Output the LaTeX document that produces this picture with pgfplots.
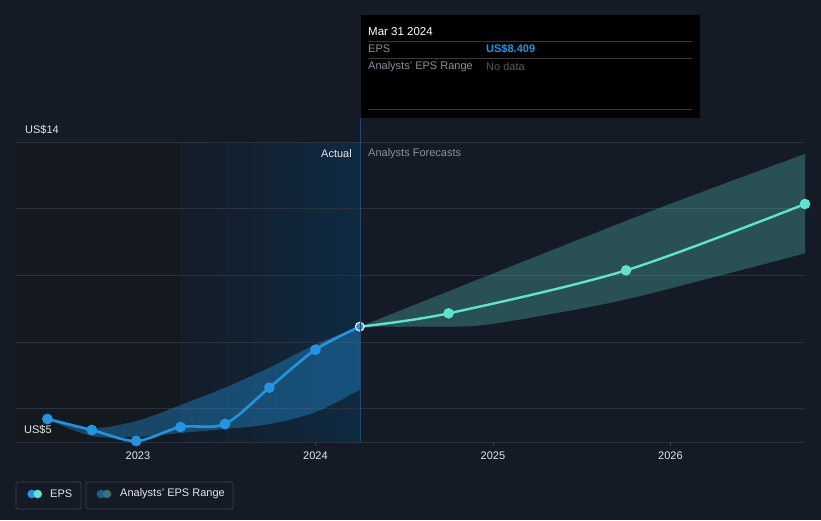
\documentclass[border=0pt]{standalone}
\usepackage{fontspec}
\setmainfont{Liberation Sans}
\usepackage{pgfplots}
\pgfplotsset{compat=1.18}
\usepgfplotslibrary{fillbetween}

\definecolor{bg}{HTML}{151B26}
\definecolor{leftbg}{HTML}{14181F}
\definecolor{hlleft}{HTML}{141C28}
\definecolor{hlright}{HTML}{0F2A42}
\definecolor{gridc}{HTML}{2C323D}
\definecolor{basec}{HTML}{3A3F4A}
\definecolor{epsblue}{HTML}{2394DF}
\definecolor{fcteal}{HTML}{5FE3CF}
\definecolor{txt}{HTML}{E4E6EA}
\definecolor{muted}{HTML}{8A9099}
\definecolor{vline}{HTML}{1E4A6B}
\definecolor{sep}{HTML}{3A3A3A}
\pagecolor{bg}

% x values are years after 2022 (0.49 = end of June 2022)
\begin{document}
\begin{tikzpicture}[x=1pt,y=1pt,font=\fontsize{11}{13}\selectfont]
\path (0,0) rectangle (821,520);

\begin{axis}[
  set layers,
  at={(16pt,78pt)}, anchor=south west,
  scale only axis, width=789pt, height=300pt,
  xmin=0.313, xmax=4.758, ymin=5, ymax=14,
  axis line style={draw=none},
  xtick={1,2,3,4},
  xticklabels={2023,2024,2025,2026},
  xtick pos=bottom,
  xtick align=outside,
  major tick length=4pt,
  xtick style={draw=basec, line width=0.8pt},
  x tick label style={text=txt, font=\fontsize{11}{13}\selectfont, yshift=-2pt},
  ytick={5,6,8,10,12,14},
  yticklabels={},
  ytick style={draw=none},
  ymajorgrids=true,
  major grid style={draw=gridc, line width=0.9pt},
  clip=false,
]
\begin{pgfonlayer}{axis background}
  \fill[leftbg] (rel axis cs:0,0) rectangle (axis cs:1.24,14);
  \shade[left color=hlleft,right color=hlright] (axis cs:1.24,5) rectangle (axis cs:2.25,14);
\end{pgfonlayer}

% historical analyst range
\addplot[name path=hu, draw=none, smooth, tension=0.6] coordinates {
  (0.49,5.69) (0.74,5.42) (0.99,5.63) (1.24,6.11)
  (1.49,6.63) (1.74,7.23) (2.00,7.92) (2.25,8.46)};
\addplot[name path=hl, draw=none, smooth, tension=0.6] coordinates {
  (0.49,5.69) (0.74,5.18) (0.99,5.15) (1.24,5.27)
  (1.49,5.39) (1.74,5.54) (2.00,5.90) (2.25,6.57)};
\addplot[fill=epsblue, fill opacity=0.38, draw=none] fill between[of=hu and hl];

% forecast analyst range
\addplot[name path=fu, draw=none, smooth] coordinates {
  (2.25,8.46) (3.83,11.80) (4.758,13.64)};
\addplot[name path=fl, draw=none, smooth, tension=0.5] coordinates {
  (2.25,8.46) (2.6,8.46) (2.93,8.50) (3.38,8.89) (3.83,9.38) (4.758,10.66)};
\addplot[fill=fcteal, fill opacity=0.27, draw=none] fill between[of=fu and fl];

% forecast EPS
\addplot[fcteal, line width=2.4pt, smooth, tension=0.5, mark=*, mark size=4pt,
  mark options={fill=fcteal, draw=none}, mark indices={2,3,4}] coordinates {
  (2.25,8.46) (2.75,8.86) (3.75,10.15) (4.758,12.14)};

% actual EPS
\addplot[epsblue, line width=2.6pt, smooth, tension=0.5, mark=*, mark size=4pt,
  mark options={fill=epsblue, draw=none}, mark indices={1,2,3,4,5,6,7}] coordinates {
  (0.49,5.69) (0.74,5.36) (0.99,5.03) (1.24,5.45)
  (1.49,5.54) (1.74,6.63) (2.00,7.77) (2.25,8.46)};
\addplot[only marks, mark=*, mark size=4.4pt,
  mark options={fill=epsblue, draw=white, line width=1pt}] coordinates {
  (2.25,8.46)};
\end{axis}

% vertical marker line at the selected date
\draw[vline, line width=1pt] (360,78) -- (360,402);

% axis texts
\node[anchor=west, text=txt, inner sep=0pt] at (25,390) {US\$14};
\node[anchor=west, text=txt, inner sep=0pt] at (24,90) {US\$5};
\node[anchor=east, text=txt, inner sep=0pt] at (352,366) {Actual};
\node[anchor=west, text=muted, inner sep=0pt] at (368,366) {Analysts Forecasts};

% tooltip
\fill[black] (361,402) rectangle (700,505);
\node[anchor=west, text=white, inner sep=0pt, font=\fontsize{11.5}{13}\selectfont] at (368,488) {Mar 31 2024};
\draw[sep, line width=0.8pt] (368,479) -- (692,479);
\node[anchor=west, text=muted, inner sep=0pt] at (368,471) {EPS};
\node[anchor=west, text=epsblue, inner sep=0pt] at (486,471) {\bfseries US\$8.409};
\draw[sep, line width=0.8pt] (368,462) -- (692,462);
\node[anchor=west, text=muted, inner sep=0pt] at (368,453) {Analysts' EPS Range};
\node[anchor=west, text=muted!60!black, inner sep=0pt] at (486,453) {No data};
\draw[sep, line width=0.8pt] (368,411) -- (692,411);

% legend
\draw[basec, line width=0.8pt, rounded corners=2pt] (16,11) rectangle (81,38);
\fill[epsblue] (31.7,26) circle (4.3);
\fill[fcteal] (37.7,26) circle (4.3);
\node[anchor=west, text=txt, inner sep=0pt] at (50,26) {EPS};
\draw[basec, line width=0.8pt, rounded corners=2pt] (86,11) rectangle (233,38);
\fill[epsblue!55!bg] (101,26) circle (4.3);
\fill[fcteal!45!bg] (107,26) circle (4.3);
\node[anchor=west, text=txt, inner sep=0pt] at (120,26) {Analysts' EPS Range};
\end{tikzpicture}
\end{document}
